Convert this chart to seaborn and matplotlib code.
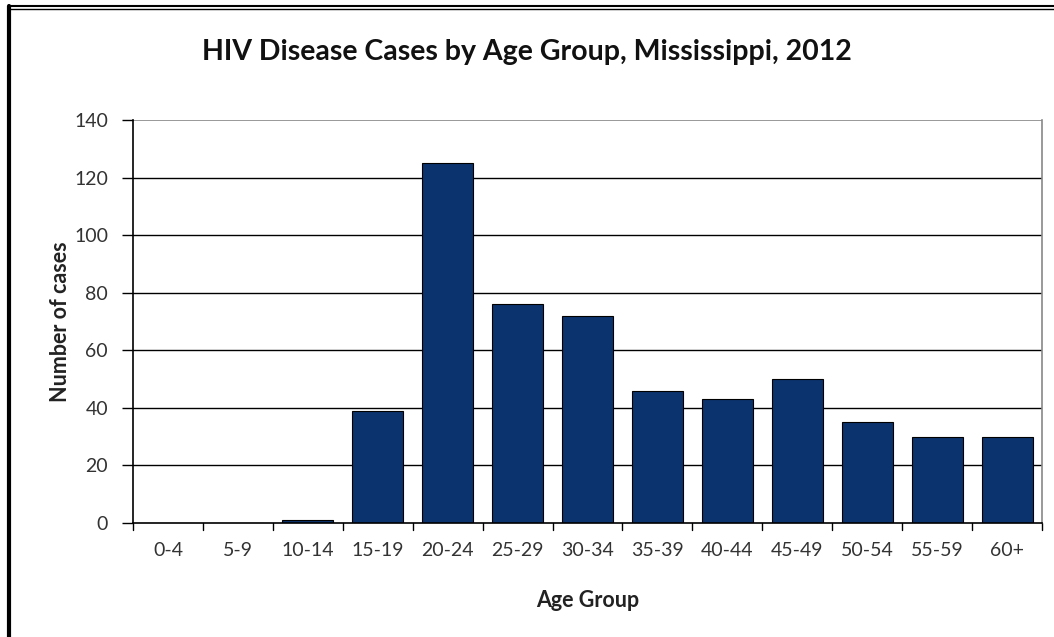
import matplotlib
matplotlib.use("Agg")
import matplotlib.pyplot as plt
import seaborn as sns
import pandas as pd
from matplotlib.lines import Line2D

age_groups = ["0-4", "5-9", "10-14", "15-19", "20-24", "25-29", "30-34",
              "35-39", "40-44", "45-49", "50-54", "55-59", "60+"]
cases = [0, 0, 1, 39, 125, 76, 72, 46, 43, 50, 35, 30, 30]
y_ticks = [0, 20, 40, 60, 80, 100, 120, 140]

sns.set_theme(style="white")
plt.rcParams['font.family'] = ['Lato', 'DejaVu Sans']

df = pd.DataFrame({"Age Group": age_groups, "Cases": cases})

fig = plt.figure(figsize=(10.54, 6.37), dpi=100)
ax = fig.add_axes([133/1054, 1 - 523/637, (1042-133)/1054, (523-120)/637])

sns.barplot(data=df, x="Age Group", y="Cases", color="#0B336E",
            edgecolor="black", linewidth=0.8, width=0.73, saturation=1, ax=ax)

ax.set_ylim(0, 140)
ax.set_xlim(-0.5, len(age_groups) - 0.5)
ax.set_yticks(y_ticks)
ax.set_yticklabels([str(t) for t in y_ticks], fontsize=14, color="#333333")
ax.tick_params(axis="x", labelsize=14, labelcolor="#333333", length=0, pad=14)
ax.tick_params(axis="y", length=8, width=1, color="black", direction="out", left=True, pad=10)
ax.set_axisbelow(True)
for t in y_ticks[1:-1]:
    ax.axhline(t, color="black", linewidth=1, zorder=0)
ax.axhline(140, color="#888888", linewidth=1.2, zorder=0)

# category boundary ticks on x axis
for b in range(len(age_groups) + 1):
    ax.plot([b - 0.5, b - 0.5], [0, -2.3], color="black", linewidth=1, clip_on=False)

for s in ["left", "bottom"]:
    ax.spines[s].set_color("black")
    ax.spines[s].set_linewidth(1.2)
ax.spines["top"].set_visible(False)
ax.spines["right"].set_color("#888888")
ax.spines["right"].set_linewidth(1.2)

ax.set_xlabel("Age Group", fontsize=15.5, fontweight="bold", color="#222222", labelpad=22)
ax.set_ylabel("Number of cases", fontsize=15.5, fontweight="bold", color="#222222", labelpad=2)

fig.text(0.5, 1 - 52/637, "HIV Disease Cases by Age Group, Mississippi, 2012",
         ha="center", va="center", fontsize=20.5, fontweight="bold", color="#111111")

# outer frame (top double line, left thick line)
fig.add_artist(Line2D([9/1054, 1], [1 - 6/637, 1 - 6/637], color="black", linewidth=1.5, transform=fig.transFigure))
fig.add_artist(Line2D([9/1054, 1], [1 - 9/637, 1 - 9/637], color="black", linewidth=1.0, transform=fig.transFigure))
fig.add_artist(Line2D([9/1054, 9/1054], [0, 1 - 6/637], color="black", linewidth=3, transform=fig.transFigure))

fig.savefig("out.png", dpi=100)
